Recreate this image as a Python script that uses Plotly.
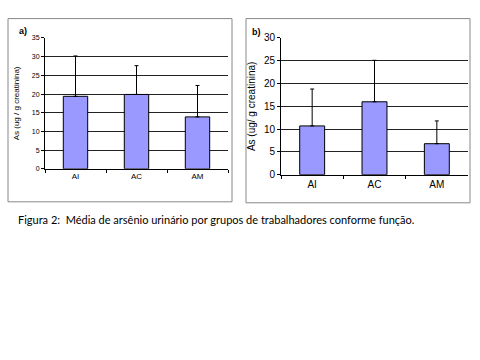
import plotly.graph_objects as go

categories = ["AI", "AC", "AM"]
means_a = [19.4, 19.9, 13.9]
upper_a = [30.2, 27.6, 22.3]
means_b = [10.7, 16.0, 6.8]
upper_b = [18.8, 25.1, 11.8]
err_a = [u - m for u, m in zip(upper_a, means_a)]
err_b = [u - m for u, m in zip(upper_b, means_b)]

W, H = 480, 360
def px(x): return x / W
def py(y): return 1 - y / H

bar_color = "#9999FF"
fig = go.Figure()
for mean, err, xa, ya in [(means_a, err_a, "x", "y"), (means_b, err_b, "x2", "y2")]:
    fig.add_trace(go.Bar(
        x=categories, y=mean, xaxis=xa, yaxis=ya, width=0.4,
        marker=dict(color=bar_color, line=dict(color="black", width=1)),
        error_y=dict(type="data", array=err, arrayminus=[0, 0, 0], symmetric=False,
                     color="black", thickness=1, width=2),
        showlegend=False,
    ))

axis_common = dict(showline=True, linecolor="black", linewidth=1, ticks="outside",
                   ticklen=3, tickcolor="black", fixedrange=True)
fig.update_layout(
    width=W, height=H, margin=dict(l=0, r=0, t=0, b=0),
    paper_bgcolor="white", plot_bgcolor="white",
    font=dict(family="Liberation Sans, Arial", color="black"),
    xaxis=dict(domain=[px(45), px(228)], anchor="y", tickson="boundaries",
               tickfont=dict(size=8), **axis_common),
    yaxis=dict(domain=[py(168), py(33)], anchor="x", range=[0, 35], dtick=5,
               showgrid=True, gridcolor="#222222", gridwidth=0.6,
               tickfont=dict(size=7),
               title=dict(text="As (ug / g creatinina)", font=dict(size=8), standoff=10),
               **axis_common),
    xaxis2=dict(domain=[px(281), px(468)], anchor="y2", tickson="boundaries",
                tickfont=dict(size=10), **axis_common),
    yaxis2=dict(domain=[py(174), py(33)], anchor="x2", range=[0, 30], dtick=5,
                showgrid=True, gridcolor="#222222", gridwidth=0.6,
                tickfont=dict(size=10),
                title=dict(text="As (ug/ g creatinina)", font=dict(size=10), standoff=6),
                **axis_common),
)

# frames around panels
for x0, y0, x1, y1 in [(8, 13, 232, 202), (246, 13, 470, 203)]:
    fig.add_shape(type="rect", xref="paper", yref="paper",
                  x0=px(x0), x1=px(x1), y0=py(y1), y1=py(y0),
                  line=dict(color="#888888", width=1))

fig.add_annotation(text="<b>a)</b>", xref="paper", yref="paper", x=px(17), y=py(26),
                   showarrow=False, xanchor="left", yanchor="middle", font=dict(size=9))
fig.add_annotation(text="<b>b)</b>", xref="paper", yref="paper", x=px(250), y=py(27),
                   showarrow=False, xanchor="left", yanchor="middle", font=dict(size=9))
fig.add_annotation(text="Figura 2:  Média de arsênio urinário por grupos de trabalhadores conforme função.",
                   xref="paper", yref="paper", x=px(16), y=py(220), showarrow=False,
                   xanchor="left", yanchor="middle",
                   font=dict(size=11, family="Lato, Open Sans, sans-serif"))

fig.write_html("out.html", config={"displayModeBar": False},
               post_script="document.body.style.margin='0';")
